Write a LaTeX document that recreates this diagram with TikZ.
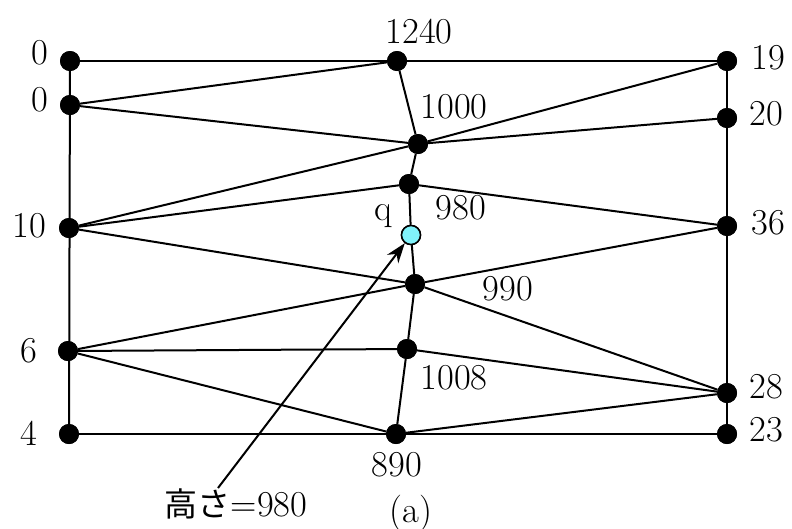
\documentclass[tikz,border=0pt]{standalone}
\usepackage{fontspec}
\newfontfamily\cjk{Noto Sans CJK JP}
\usetikzlibrary{arrows.meta}
\definecolor{qcyan}{RGB}{128,242,250}
\begin{document}
\begin{tikzpicture}[x=1pt,y=-1pt,
  dot/.style={circle,fill=black,inner sep=0pt,minimum size=20pt},
  qdot/.style={circle,fill=qcyan,draw=black,line width=1.5pt,inner sep=0pt,minimum size=19pt},
  edge/.style={line width=2pt},
  lbl/.style={font=\fontsize{36.5}{40}\selectfont,inner sep=0pt}]
\useasboundingbox (0,0) rectangle (792,528);
% left column
\node[dot] (L1) at (70,61) {};
\node[dot] (L2) at (70,105) {};
\node[dot] (L3) at (69,228) {};
\node[dot] (L4) at (68,351) {};
\node[dot] (L5) at (69,434) {};
% right column
\node[dot] (R1) at (727,61) {};
\node[dot] (R2) at (727,118) {};
\node[dot] (R3) at (727,226) {};
\node[dot] (R4) at (727,393) {};
\node[dot] (R5) at (727,434) {};
% middle
\node[dot] (M1) at (397,61) {};
\node[dot] (M2) at (418,144) {};
\node[dot] (M3) at (409,184) {};
\node[qdot] (Q) at (411,235) {};
\node[dot] (M4) at (415,284) {};
\node[dot] (M5) at (407,349) {};
\node[dot] (M6) at (396,434) {};
% edges
\draw[edge] (L1) -- (L5);
\draw[edge] (R1) -- (R5);
\draw[edge] (L1) -- (M1);
\draw[edge] (M1) -- (R1);
\draw[edge] (L5) -- (M6);
\draw[edge] (M6) -- (R5);
\draw[edge] (M1) -- (M2);
\draw[edge] (M2) -- (M3);
\draw[edge] (M3) -- (Q);
\draw[edge] (Q) -- (M4);
\draw[edge] (M4) -- (M5);
\draw[edge] (M5) -- (M6);
\draw[edge] (L2) -- (M1);
\draw[edge] (L2) -- (M2);
\draw[edge] (L3) -- (M2);
\draw[edge] (M2) -- (R1);
\draw[edge] (M2) -- (R2);
\draw[edge] (L3) -- (M3);
\draw[edge] (M3) -- (R3);
\draw[edge] (L3) -- (M4);
\draw[edge] (M4) -- (R4);
\draw[edge] (L4) -- (M4);
\draw[edge] (M4) -- (R3);
\draw[edge] (L4) -- (M5);
\draw[edge] (M5) -- (R4);
\draw[edge] (L4) -- (M6);
\draw[edge] (M6) -- (R4);
% redraw dots on top
\foreach \n in {L1,L2,L3,L4,L5,R1,R2,R3,R4,R5,M1,M2,M3,M4,M5,M6}
  \fill (\n) circle (10pt);
\node[qdot] at (Q) {};
% labels
\node[lbl] (tL1) at (40,53) {0};
\node[lbl] (tL2) at (40,100) {0};
\node[lbl] (tL3) at (29,226) {10};
\node[lbl] (tL4) at (29,351) {6};
\node[lbl] (tL5) at (29,433) {4};
\node[lbl] (tR1) at (768,58) {19};
\node[lbl] (tR2) at (766,114) {20};
\node[lbl] (tR3) at (768,223) {36};
\node[lbl] (tR4) at (766,387) {28};
\node[lbl] (tR5) at (766,430) {23};
\node[lbl] (tM1) at (419,32) {1240};
\node[lbl] (tM2) at (454,107) {1000};
\node[lbl] (tM3) at (461,208) {980};
\node[lbl] (tQ) at (383,216) {q};
\node[lbl] (tM4) at (508,289) {990};
\node[lbl] (tM5) at (454,378) {1008};
\node[lbl] (tM6) at (397,465) {890};
\node[lbl] (cap) at (411,513) {(a)};
\node[lbl,anchor=base] (hl) at (236,516) {{\cjk\fontsize{33}{36}\selectfont 高さ}=980};
\coordinate (as) at (218,488);
\draw[edge,-{Stealth[length=20pt,width=14pt]}] (as) -- (Q);
\end{tikzpicture}
\end{document}
